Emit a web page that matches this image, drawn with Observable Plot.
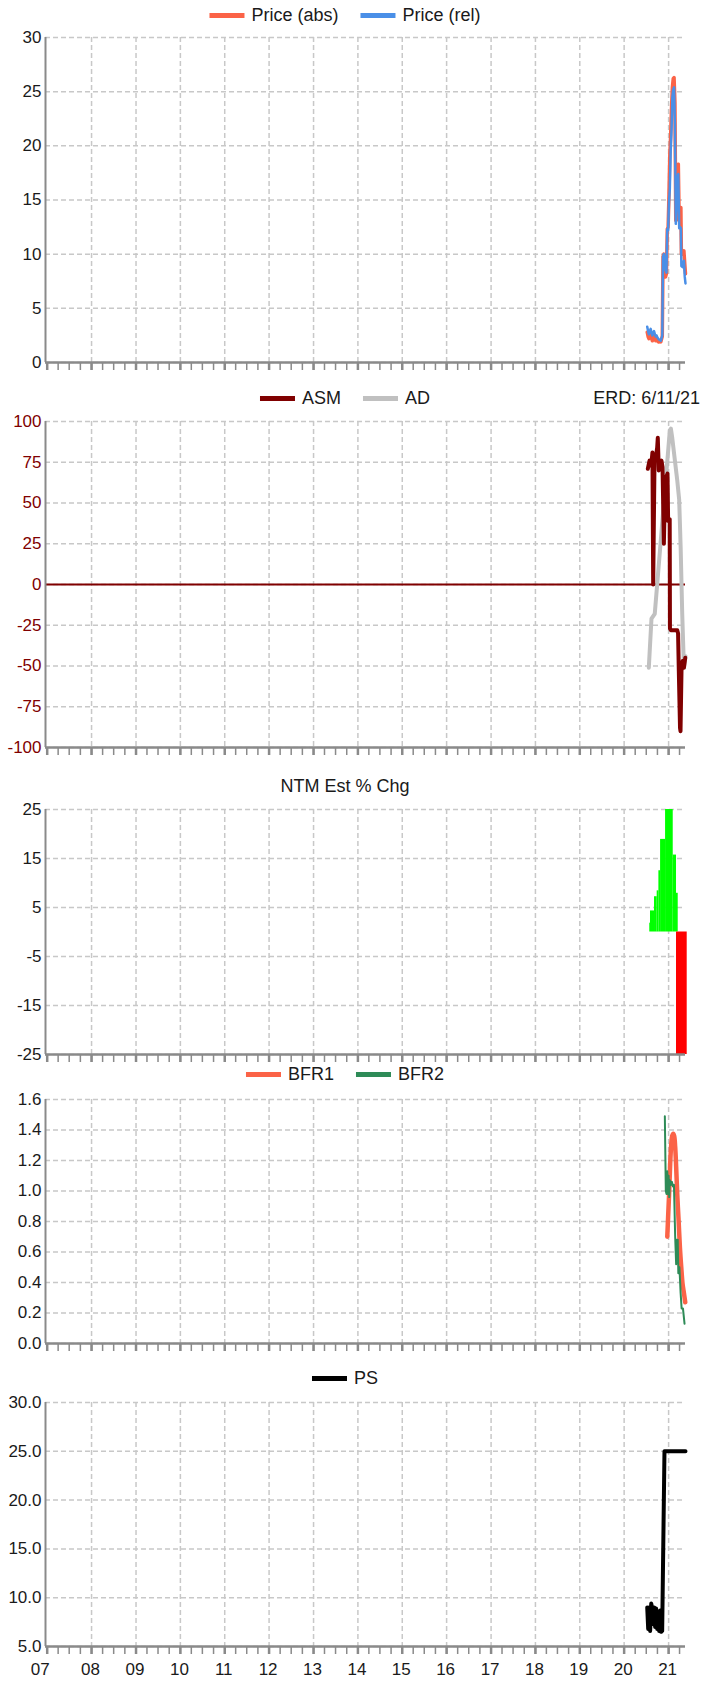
<!DOCTYPE html>
<html><head><meta charset="utf-8">
<script src="https://cdn.jsdelivr.net/npm/d3@7"></script>
<script src="https://cdn.jsdelivr.net/npm/@observablehq/plot@0.6"></script>
<style>
html,body{margin:0;padding:0;background:#fff;}
#root{position:relative;width:702px;height:1691px;font-family:"Liberation Sans",Arial,sans-serif;color:#1a1a1a;overflow:hidden;}
.legend{position:absolute;display:flex;align-items:center;white-space:nowrap;font-size:18px;line-height:1;transform:translate(-50%,-50%);}
.item{display:flex;align-items:center;margin:0 11px;}
.sw{display:inline-block;width:35px;height:5px;margin-right:7px;}
.erd{position:absolute;right:2px;font-size:18px;line-height:1;transform:translateY(-50%);white-space:nowrap;}
.panel{position:absolute;left:0;}
</style></head><body><div id="root"></div>
<script>
// ---------- data ----------
const priceDates = ["2020-07-09","2020-07-16","2020-07-23","2020-07-30","2020-08-06","2020-08-13","2020-08-20","2020-08-27","2020-09-03","2020-09-10","2020-09-17","2020-09-24","2020-10-01","2020-10-08","2020-10-15","2020-10-22","2020-10-29","2020-11-05","2020-11-10","2020-11-16","2020-11-23","2020-11-30","2020-12-07","2020-12-14","2020-12-21","2020-12-28","2021-01-04","2021-01-11","2021-01-18","2021-01-25","2021-02-01","2021-02-08","2021-02-15","2021-02-22","2021-03-01","2021-03-08","2021-03-15","2021-03-22","2021-03-29","2021-04-05","2021-04-12","2021-04-16","2021-04-26","2021-05-07","2021-05-14","2021-05-20"];
const priceAbs = [2.8,2.4,2.2,2.5,2.6,2.3,2.0,2.4,2.6,2.3,2.0,2.2,2.1,1.9,1.9,2.0,1.9,2.2,2.4,9.8,10.0,9.6,7.9,8.2,12.3,12.5,15.5,19.2,21.0,23.5,25.4,26.2,26.3,24.0,13.1,15.0,18.0,18.3,13.1,14.3,14.3,10.0,10.0,10.3,9.1,8.2];
const priceRel = [3.3,2.9,2.6,2.9,3.1,2.8,2.5,2.7,2.9,2.6,2.4,2.5,2.3,2.2,2.1,2.1,2.0,2.3,2.5,9.8,10.0,9.5,8.5,8.3,12.3,12.2,14.8,16.0,19.5,21.5,24.5,25.2,25.4,22.0,12.8,14.5,17.1,17.4,12.4,12.5,12.4,8.9,8.8,9.4,7.9,7.3];

const asmDates = ["2020-07-14","2020-07-28","2020-08-11","2020-08-21","2020-08-27","2020-09-07","2020-09-18","2020-09-29","2020-10-04","2020-10-12","2020-11-03","2020-11-12","2020-11-23","2020-12-01","2020-12-12","2020-12-23","2020-12-28","2021-01-10","2021-01-12","2021-01-20","2021-02-08","2021-03-13","2021-03-20","2021-03-26","2021-04-05","2021-04-09","2021-04-17","2021-04-26","2021-05-07","2021-05-18"];
const asmValues = [71,76,73,81,0,76,78,84,90,70,76,72,25,54,66,68,39,40,-27,-28,-28,-28,-30,-53,-88,-90,-53,-47,-51,-45];
const adDates = ["2020-07-22","2020-08-13","2020-09-09","2021-01-11","2021-01-20","2021-01-30","2021-03-13","2021-03-29","2021-04-10","2021-04-23","2021-05-07","2021-05-20"];
const adValues = [-51,-21,-18,94.6,95.6,90.5,64,52,23,-18,-51,-44];

const ntmStart = ["2020-07-30","2020-08-05","2020-09-07","2020-09-29","2020-10-13","2020-10-27","2020-12-07","2021-02-08","2021-03-07","2021-03-07"];
const ntmEnd   = ["2020-08-05","2020-09-07","2020-09-29","2020-10-13","2020-10-27","2020-12-07","2021-02-08","2021-03-07","2021-03-21","2021-06-03"];
const ntmValues = [1.8,4.3,7.2,8.4,12.5,18.9,25,15.7,7.9,-25];

const bfr1Dates = ["2020-12-21","2020-12-28","2021-01-06","2021-01-14","2021-01-22","2021-01-30","2021-02-08","2021-02-16","2021-02-24","2021-03-04","2021-03-13","2021-03-24","2021-04-04","2021-04-15","2021-04-26","2021-05-07","2021-05-18"];
const bfr1Values = [0.70,0.83,1.00,1.18,1.30,1.36,1.375,1.36,1.29,1.16,0.98,0.81,0.63,0.50,0.39,0.33,0.27];
const bfr2Dates = ["2020-12-01","2020-12-09","2020-12-15","2020-12-21","2020-12-26","2021-01-01","2021-01-06","2021-01-11","2021-01-20","2021-01-28","2021-02-06","2021-02-14","2021-02-19","2021-02-24","2021-03-04","2021-03-09","2021-03-17","2021-03-22","2021-03-31","2021-04-10","2021-04-18","2021-04-29","2021-05-12"];
const bfr2Values = [1.49,1.00,0.98,1.13,0.98,1.10,0.96,1.07,1.04,1.06,1.03,1.04,0.87,0.70,0.52,0.68,0.68,0.46,0.50,0.33,0.23,0.23,0.13];

const psDates = ["2020-07-09","2020-07-17","2020-07-25","2020-08-02","2020-08-11","2020-08-19","2020-08-27","2020-09-04","2020-09-12","2020-09-20","2020-09-29","2020-10-07","2020-10-15","2020-10-23","2020-11-01","2020-11-09","2020-11-28","2021-05-20"];
const psValues = [9.0,6.8,9.0,6.6,9.4,8.9,7.3,9.0,7.0,8.9,6.8,8.3,6.6,8.7,6.5,6.6,25.0,25.0];

const priceTicks = [0,5,10,15,20,25,30];
const smTicks = [-100,-75,-50,-25,0,25,50,75,100];
const ntmTicks = [-25,-15,-5,5,15,25];
const bfrTicks = [0,0.2,0.4,0.6,0.8,1.0,1.2,1.4,1.6];
const psTicks = [5,10,15,20,25,30];
const yearLabels = ["07","08","09","10","11","12","13","14","15","16","17","18","19","20","21"];
const xDomainText = ["2006-12-18","2021-05-20"];
const erdText = "ERD: 6/11/21";

// ---------- helpers ----------
const P = s => new Date(s + "T00:00:00Z");
const xDom = xDomainText.map(P);
const years = yearLabels.map(l => new Date(Date.UTC(2000 + +l, 0, 1)));
const gridYears = years.slice(1);
const quarters = [];
years.forEach(y => { for (let m = 0; m < 12; m += 3) { const d = new Date(Date.UTC(y.getUTCFullYear(), m, 1)); if (d <= xDom[1]) quarters.push(d); } });
const series = (ds, vs) => ds.map((d, i) => ({d: P(d), v: vs[i]}));

const GRID = "#c8c8c8", AX = "#8a8a8a";
const root = document.getElementById("root");

function panel({top, plotH, yDomain, yTicks, yFmt, yColor = "#1a1a1a", marks, bottomLabels = false}) {
  const mt = 12, mb = bottomLabels ? 42 : 14;
  const chart = Plot.plot({
    width: 702, height: mt + plotH + mb,
    marginTop: mt, marginBottom: mb, marginLeft: 45, marginRight: 17,
    x: {type: "utc", domain: xDom, axis: null},
    y: {domain: yDomain, axis: null},
    style: {fontFamily: "'Liberation Sans', Arial, sans-serif", fontSize: "17px", color: "#1a1a1a", background: "transparent", overflow: "visible"},
    marks: [
      Plot.ruleY(yTicks, {stroke: GRID, strokeWidth: 1.5, strokeDasharray: "5,3"}),
      Plot.ruleX(gridYears, {stroke: GRID, strokeWidth: 1.5, strokeDasharray: "5,3"}),
      ...marks,
      Plot.ruleX(quarters, {insetTop: plotH, insetBottom: -8, stroke: AX, strokeWidth: 1.5}),
      Plot.ruleX(years, {insetTop: plotH, insetBottom: -8, stroke: AX, strokeWidth: 2.5}),
      Plot.ruleY([yDomain[0]], {stroke: AX, strokeWidth: 2.5}),
      Plot.ruleX([xDom[0]], {stroke: AX, strokeWidth: 2}),
      Plot.text(yTicks, {y: d => d, text: yFmt, frameAnchor: "left", textAnchor: "end", dx: -4, fill: yColor, fontSize: 17}),
      ...(bottomLabels ? [
        Plot.text(years.slice(1), {x: d => d, text: (d, i) => yearLabels[i + 1], frameAnchor: "bottom", dy: 28, dx: -1, fill: "#1a1a1a", fontSize: 17}),
        Plot.text(years.slice(0, 1), {x: d => d, text: () => yearLabels[0], frameAnchor: "bottom", dy: 28, dx: -7, fill: "#1a1a1a", fontSize: 17})
      ] : [])
    ]
  });
  chart.classList.add("panel");
  chart.style.top = (top - mt) + "px";
  root.appendChild(chart);
}

function legend(items, y) {
  const div = document.createElement("div");
  div.className = "legend";
  div.style.left = "345px";
  div.style.top = y + "px";
  items.forEach(([label, color]) => {
    const it = document.createElement("span");
    it.className = "item";
    if (color) {
      const sw = document.createElement("span");
      sw.className = "sw";
      sw.style.background = color;
      it.appendChild(sw);
    }
    it.appendChild(document.createTextNode(label));
    div.appendChild(it);
  });
  root.appendChild(div);
}

// ---------- panels ----------
const lineOpts = (stroke, w) => ({x: "d", y: "v", stroke, strokeWidth: w, strokeLinejoin: "round", strokeLinecap: "round"});

legend([["Price (abs)", "#fb6347"], ["Price (rel)", "#4a8fe7"]], 15);
panel({top: 37, plotH: 325, yDomain: [0, 30], yTicks: priceTicks, yFmt: d => String(d),
  marks: [
    Plot.line(series(priceDates, priceAbs), lineOpts("#fb6347", 3.5)),
    Plot.line(series(priceDates, priceRel), lineOpts("#4a8fe7", 2.5))
  ]});

legend([["ASM", "#800000"], ["AD", "#c0c0c0"]], 398);
const erd = document.createElement("div");
erd.className = "erd"; erd.style.top = "398px"; erd.textContent = erdText;
root.appendChild(erd);
panel({top: 421, plotH: 326, yDomain: [-100, 100], yTicks: smTicks, yFmt: d => String(d), yColor: "#800000",
  marks: [
    Plot.ruleY([0], {stroke: "#800000", strokeWidth: 2}),
    Plot.line(series(adDates, adValues), lineOpts("#c0c0c0", 4)),
    Plot.line(series(asmDates, asmValues), lineOpts("#800000", 4))
  ]});

legend([["NTM Est % Chg", null]], 786);
const ntm = ntmValues.map((v, i) => ({s: P(ntmStart[i]), e: P(ntmEnd[i]), v}));
panel({top: 809, plotH: 245, yDomain: [-25, 25], yTicks: ntmTicks, yFmt: d => String(d),
  marks: [
    Plot.rect(ntm.filter(d => d.v >= 0), {x1: "s", x2: "e", y1: 0, y2: "v", fill: "#00ff00"}),
    Plot.rect(ntm.filter(d => d.v < 0), {x1: "s", x2: "e", y1: 0, y2: "v", fill: "#ff0000"})
  ]});

legend([["BFR1", "#fb6347"], ["BFR2", "#2e8b57"]], 1074);
panel({top: 1099, plotH: 244, yDomain: [0, 1.6], yTicks: bfrTicks, yFmt: d => d.toFixed(1),
  marks: [
    Plot.line(series(bfr1Dates, bfr1Values), {...lineOpts("#fb6347", 4.5), curve: "catmull-rom"}),
    Plot.line(series(bfr2Dates, bfr2Values), lineOpts("#2e8b57", 2))
  ]});

legend([["PS", "#000000"]], 1378);
panel({top: 1402, plotH: 244, yDomain: [5, 30], yTicks: psTicks, yFmt: d => d.toFixed(1), bottomLabels: true,
  marks: [
    Plot.line(series(psDates, psValues), lineOpts("#000000", 4))
  ]});
</script></body></html>
